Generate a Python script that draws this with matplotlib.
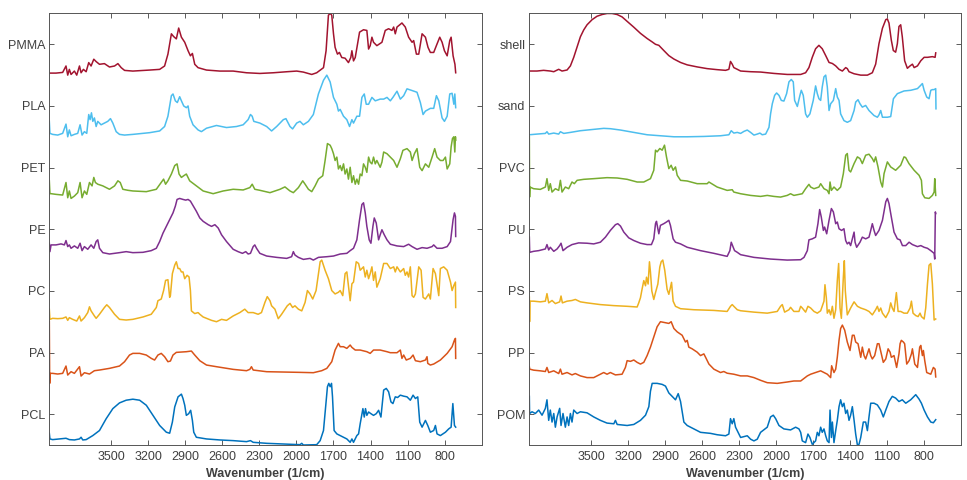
import matplotlib
matplotlib.use("Agg")
import matplotlib.pyplot as plt
import numpy as np

# ATR-FTIR spectra (wavenumber in 1/cm, absorbance in arbitrary units)
pmma = [(4000, 9), (3946, 9), (3892, 11), (3865, 30), (3851, 3), (3838, 20), (3824, 5), (3797, 15),
        (3778, 3), (3756, 30), (3743, 10), (3724, 20), (3702, 13), (3681, 40), (3662, 30), (3640, 50),
        (3621, 43), (3594, 35), (3554, 37), (3513, 27), (3472, 30), (3445, 37), (3418, 25), (3391, 17),
        (3324, 15), (3188, 18), (3107, 20), (3067, 30), (3040, 65), (3012, 125), (2994, 117), (2972, 110),
        (2953, 142), (2931, 115), (2904, 100), (2877, 75), (2858, 60), (2842, 67), (2823, 35), (2796, 25),
        (2728, 18), (2620, 15), (2512, 15), (2404, 10), (2296, 8), (2187, 10), (2079, 13), (1998, 15),
        (1944, 12), (1876, 5), (1836, 10), (1781, 25), (1760, 75), (1741, 180), (1727, 185), (1714, 180),
        (1700, 125), (1687, 85), (1668, 65), (1652, 70), (1633, 55), (1606, 53), (1579, 40), (1560, 55),
        (1551, 75), (1538, 45), (1524, 55), (1489, 130), (1457, 137), (1430, 135), (1416, 80), (1403, 90),
        (1389, 115), (1376, 100), (1349, 90), (1308, 100), (1281, 135), (1254, 140), (1227, 135),
        (1213, 145), (1200, 125), (1186, 145), (1159, 153), (1146, 157), (1119, 145), (1092, 115),
        (1064, 100), (1051, 105), (1029, 65), (1010, 65), (983, 125), (956, 115), (935, 85), (916, 70),
        (889, 70), (862, 95), (840, 115), (821, 100), (802, 75), (780, 60), (759, 105), (748, 115),
        (732, 60), (717, 35), (711, 10)]

pla = [(4000, 50), (3995, 15), (3973, 12), (3932, 10), (3892, 15), (3865, 42), (3851, 5), (3838, 25),
       (3824, 8), (3797, 12), (3770, 15), (3751, 40), (3735, 10), (3716, 20), (3697, 15), (3681, 70),
       (3670, 55), (3659, 75), (3648, 50), (3635, 60), (3621, 35), (3608, 50), (3581, 40), (3554, 45),
       (3527, 50), (3505, 58), (3486, 45), (3459, 20), (3432, 12), (3391, 10), (3324, 12), (3188, 17),
       (3107, 22), (3067, 35), (3040, 65), (3012, 125), (2999, 130), (2980, 110), (2964, 105), (2945, 122),
       (2931, 110), (2912, 95), (2891, 90), (2877, 95), (2864, 65), (2837, 40), (2796, 25), (2769, 20),
       (2728, 30), (2647, 38), (2566, 32), (2485, 35), (2431, 40), (2391, 55), (2372, 70), (2358, 65),
       (2345, 50), (2296, 45), (2241, 35), (2201, 22), (2160, 35), (2106, 55), (2085, 58), (2052, 35),
       (2031, 28), (1998, 45), (1971, 50), (1944, 40), (1903, 50), (1863, 70), (1822, 130), (1781, 170),
       (1754, 185), (1727, 165), (1700, 120), (1673, 100), (1660, 80), (1646, 85), (1619, 65), (1592, 55),
       (1570, 35), (1551, 55), (1538, 45), (1511, 65), (1489, 65), (1470, 120), (1451, 130), (1435, 100),
       (1416, 100), (1389, 120), (1362, 110), (1322, 115), (1294, 115), (1267, 120), (1240, 110),
       (1219, 120), (1186, 138), (1159, 115), (1132, 125), (1105, 145), (1064, 140), (1024, 135),
       (997, 105), (975, 70), (956, 80), (916, 88), (889, 88), (867, 125), (848, 110), (821, 60), (802, 50),
       (780, 65), (759, 130), (740, 132), (726, 100), (718, 130), (711, 90)]

pet = [(4000, 54), (3995, 16), (3986, 16), (3946, 14), (3892, 12), (3865, 49), (3851, 4), (3838, 24),
       (3824, 2), (3797, 9), (3770, 19), (3751, 49), (3735, 4), (3716, 24), (3697, 14), (3675, 49),
       (3654, 39), (3640, 64), (3627, 49), (3608, 44), (3567, 39), (3513, 29), (3472, 39), (3445, 54),
       (3426, 49), (3405, 29), (3364, 26), (3324, 24), (3215, 22), (3134, 29), (3094, 49), (3075, 59),
       (3059, 44), (3040, 54), (3012, 74), (2985, 99), (2966, 104), (2950, 74), (2931, 64), (2912, 69),
       (2891, 74), (2864, 54), (2810, 39), (2755, 24), (2674, 16), (2593, 24), (2512, 29), (2431, 27),
       (2377, 34), (2358, 44), (2337, 29), (2296, 26), (2214, 19), (2133, 29), (2093, 36), (2052, 24),
       (2025, 19), (1984, 34), (1949, 54), (1930, 44), (1903, 29), (1876, 22), (1849, 39), (1822, 59),
       (1787, 69), (1768, 114), (1749, 164), (1727, 159), (1714, 149), (1700, 134), (1687, 114),
       (1673, 124), (1660, 89), (1646, 99), (1633, 84), (1619, 104), (1606, 74), (1592, 89), (1579, 59),
       (1565, 94), (1551, 49), (1538, 69), (1524, 44), (1511, 59), (1497, 44), (1484, 74), (1470, 69),
       (1457, 104), (1443, 94), (1430, 79), (1416, 124), (1403, 109), (1389, 104), (1376, 124),
       (1362, 104), (1349, 114), (1322, 94), (1308, 109), (1294, 139), (1267, 134), (1240, 124),
       (1213, 114), (1186, 94), (1159, 119), (1138, 144), (1105, 149), (1078, 139), (1064, 114),
       (1045, 134), (1024, 149), (1002, 94), (983, 84), (956, 104), (929, 94), (902, 124), (881, 149),
       (862, 124), (835, 114), (813, 114), (794, 124), (780, 89), (759, 104), (748, 154), (737, 179),
       (726, 184), (718, 139), (713, 184), (711, 174)]

pe = [(4000, 51), (3995, 26), (3986, 46), (3946, 46), (3905, 49), (3878, 46), (3865, 59), (3851, 41),
      (3838, 46), (3824, 36), (3797, 43), (3770, 36), (3751, 51), (3735, 29), (3716, 41), (3689, 33),
      (3662, 46), (3640, 36), (3621, 56), (3608, 61), (3594, 36), (3567, 23), (3513, 19), (3432, 23),
      (3378, 26), (3324, 23), (3242, 24), (3175, 29), (3134, 36), (3107, 56), (3080, 81), (3053, 101),
      (3026, 121), (2999, 141), (2980, 161), (2966, 181), (2945, 184), (2918, 181), (2896, 179),
      (2877, 181), (2858, 176), (2842, 166), (2810, 146), (2782, 126), (2755, 116), (2714, 106),
      (2687, 101), (2660, 106), (2633, 96), (2606, 76), (2566, 56), (2512, 33), (2472, 26), (2437, 21),
      (2410, 26), (2391, 19), (2372, 21), (2350, 41), (2337, 46), (2323, 36), (2296, 21), (2241, 13),
      (2160, 9), (2079, 6), (2039, 11), (2025, 26), (2012, 16), (1984, 9), (1944, 3), (1890, 6),
      (1863, 1), (1822, 9), (1754, 11), (1700, 13), (1646, 19), (1592, 21), (1565, 29), (1538, 36),
      (1511, 61), (1489, 121), (1470, 166), (1457, 171), (1443, 141), (1430, 101), (1411, 61),
      (1397, 51), (1381, 101), (1370, 126), (1354, 111), (1335, 61), (1322, 76), (1308, 91), (1289, 76),
      (1267, 61), (1240, 48), (1186, 43), (1132, 41), (1092, 48), (1064, 41), (1024, 33), (983, 38),
      (943, 36), (902, 41), (889, 46), (862, 36), (821, 36), (780, 41), (753, 56), (732, 121),
      (721, 141), (713, 131), (711, 71)]

pc = [(4000, 40), (3995, 10), (3973, 13), (3932, 12), (3892, 13), (3865, 17), (3851, 7), (3838, 15),
      (3811, 10), (3778, 5), (3756, 20), (3743, 5), (3716, 15), (3689, 30), (3675, 47), (3662, 35),
      (3635, 20), (3621, 13), (3594, 25), (3554, 45), (3535, 53), (3513, 45), (3472, 25), (3432, 10),
      (3378, 8), (3324, 10), (3242, 17), (3175, 25), (3134, 45), (3121, 65), (3094, 70), (3075, 95),
      (3059, 125), (3040, 127), (3026, 75), (3020, 80), (3004, 145), (2985, 170), (2972, 180),
      (2958, 160), (2945, 160), (2931, 150), (2918, 150), (2904, 130), (2885, 140), (2869, 135),
      (2858, 95), (2850, 35), (2823, 27), (2796, 30), (2782, 25), (2755, 17), (2728, 13), (2687, 7),
      (2647, 3), (2606, 10), (2566, 7), (2512, 20), (2458, 30), (2418, 40), (2391, 30), (2350, 30),
      (2310, 25), (2283, 30), (2255, 60), (2236, 77), (2214, 65), (2201, 50), (2174, 40), (2147, 12),
      (2120, 25), (2093, 40), (2074, 50), (2052, 57), (2031, 45), (2012, 50), (1984, 40), (1957, 35),
      (1930, 60), (1911, 95), (1890, 85), (1868, 70), (1841, 95), (1808, 180), (1795, 185), (1768, 155),
      (1741, 130), (1714, 95), (1687, 85), (1660, 90), (1646, 95), (1625, 80), (1606, 145), (1592, 150),
      (1579, 110), (1565, 65), (1551, 115), (1538, 120), (1516, 180), (1497, 175), (1484, 155),
      (1457, 165), (1443, 135), (1430, 155), (1416, 130), (1403, 145), (1389, 165), (1376, 125),
      (1362, 150), (1349, 105), (1322, 130), (1294, 175), (1267, 175), (1240, 160), (1213, 165),
      (1200, 150), (1186, 165), (1159, 150), (1132, 160), (1119, 140), (1105, 150), (1092, 135),
      (1078, 165), (1064, 80), (1051, 75), (1037, 85), (1010, 165), (991, 155), (975, 75), (956, 70),
      (929, 85), (916, 70), (894, 160), (875, 145), (848, 80), (835, 160), (808, 165), (780, 155),
      (753, 120), (740, 95), (726, 110), (713, 120), (711, 45)]

pa = [(4000, 185), (3997, 0), (3994, 30), (3973, 30), (3932, 28), (3892, 30), (3865, 52), (3851, 25),
      (3824, 35), (3797, 30), (3756, 50), (3743, 22), (3716, 32), (3675, 28), (3635, 38), (3594, 40),
      (3513, 45), (3432, 52), (3391, 65), (3351, 85), (3324, 90), (3269, 90), (3215, 85), (3175, 75),
      (3148, 70), (3121, 85), (3094, 90), (3067, 80), (3040, 65), (3020, 67), (2999, 85), (2972, 93),
      (2891, 95), (2850, 97), (2823, 85), (2782, 68), (2728, 55), (2647, 50), (2512, 42), (2404, 38),
      (2377, 42), (2364, 50), (2350, 40), (2241, 35), (2106, 34), (1971, 33), (1863, 32), (1795, 38),
      (1754, 45), (1714, 65), (1687, 100), (1660, 120), (1646, 110), (1619, 110), (1592, 105),
      (1565, 115), (1551, 108), (1524, 100), (1484, 100), (1430, 95), (1403, 90), (1376, 100),
      (1322, 100), (1267, 95), (1240, 92), (1186, 92), (1159, 100), (1146, 75), (1132, 85), (1111, 70),
      (1078, 75), (1056, 85), (1037, 68), (997, 65), (956, 70), (943, 80), (937, 60), (916, 55),
      (889, 58), (835, 70), (780, 90), (740, 110), (721, 130), (713, 135), (711, 75)]

pcl = [(4000, 37), (3995, 20), (3973, 18), (3919, 20), (3865, 22), (3838, 18), (3797, 17), (3756, 20),
       (3743, 25), (3729, 17), (3702, 18), (3648, 30), (3594, 45), (3540, 80), (3486, 110), (3432, 127),
       (3378, 135), (3324, 138), (3269, 135), (3215, 120), (3161, 90), (3107, 60), (3053, 40), (3026, 37),
       (3004, 70), (2985, 115), (2958, 145), (2931, 153), (2918, 140), (2904, 120), (2891, 90),
       (2872, 95), (2856, 105), (2842, 75), (2831, 40), (2810, 25), (2728, 20), (2620, 17), (2512, 15),
       (2404, 12), (2372, 15), (2350, 10), (2241, 7), (2106, 5), (1971, 3), (1957, 7), (1944, 2),
       (1836, 3), (1808, 15), (1781, 45), (1760, 130), (1749, 175), (1738, 185), (1727, 175),
       (1716, 185), (1708, 145), (1695, 45), (1673, 35), (1646, 30), (1592, 20), (1565, 10), (1551, 20),
       (1538, 10), (1511, 30), (1497, 35), (1484, 65), (1462, 110), (1451, 85), (1441, 110), (1430, 90),
       (1416, 100), (1397, 95), (1376, 90), (1354, 95), (1335, 105), (1316, 85), (1294, 165),
       (1273, 170), (1254, 160), (1235, 130), (1219, 125), (1200, 145), (1181, 143), (1159, 150),
       (1132, 147), (1105, 145), (1078, 135), (1056, 150), (1037, 140), (1018, 145), (1002, 70),
       (983, 55), (956, 75), (937, 60), (916, 40), (889, 45), (875, 60), (862, 35), (835, 30), (794, 40),
       (767, 50), (748, 55), (734, 125), (721, 60), (711, 55)]

shell = [(4000, 14), (3938, 14), (3884, 16), (3830, 14), (3802, 12), (3762, 19), (3735, 14), (3694, 17),
         (3667, 29), (3640, 54), (3613, 84), (3586, 114), (3559, 134), (3532, 149), (3491, 164),
         (3451, 174), (3410, 179), (3370, 182), (3329, 182), (3288, 179), (3248, 172), (3207, 159),
         (3153, 142), (3099, 124), (3045, 109), (3004, 99), (2977, 92), (2950, 89), (2910, 74),
         (2869, 59), (2828, 49), (2774, 39), (2720, 32), (2639, 26), (2558, 21), (2477, 18), (2409, 16),
         (2382, 19), (2369, 42), (2355, 34), (2342, 24), (2314, 19), (2287, 14), (2206, 12), (2125, 11),
         (2017, 7), (1909, 4), (1800, 4), (1760, 9), (1733, 24), (1706, 54), (1679, 79), (1652, 89),
         (1625, 79), (1597, 59), (1570, 39), (1543, 36), (1516, 29), (1489, 19), (1462, 14), (1435, 24),
         (1422, 21), (1408, 12), (1367, 6), (1313, 2), (1259, 2), (1219, 9), (1192, 34), (1165, 94),
         (1137, 139), (1110, 164), (1097, 166), (1084, 154), (1065, 104), (1049, 74), (1030, 69),
         (1016, 94), (1003, 144), (989, 149), (976, 114), (957, 44), (935, 22), (913, 29), (894, 34),
         (880, 24), (853, 29), (826, 44), (799, 54), (772, 54), (732, 56), (710, 54), (705, 67)]

sand = [(4000, 8), (3938, 10), (3870, 12), (3857, 17), (3843, 10), (3802, 13), (3762, 10), (3748, 17),
        (3721, 12), (3667, 15), (3586, 20), (3505, 23), (3397, 27), (3343, 26), (3261, 22), (3153, 15),
        (3045, 8), (2937, 5), (2828, 2), (2720, 2), (2585, 3), (2450, 5), (2382, 8), (2363, 20),
        (2342, 13), (2314, 15), (2287, 12), (2260, 18), (2233, 22), (2206, 15), (2179, 7), (2152, 10),
        (2130, 13), (2112, 8), (2084, 10), (2057, 30), (2044, 70), (2030, 100), (2011, 125), (1995, 132),
        (1976, 125), (1957, 110), (1936, 108), (1914, 130), (1895, 165), (1876, 172), (1860, 165),
        (1849, 110), (1827, 92), (1806, 125), (1795, 140), (1779, 125), (1760, 70), (1746, 60),
        (1725, 70), (1698, 110), (1679, 153), (1665, 130), (1652, 115), (1638, 110), (1625, 150),
        (1611, 180), (1597, 185), (1584, 150), (1570, 80), (1557, 100), (1535, 110), (1516, 145),
        (1503, 120), (1489, 110), (1476, 70), (1449, 50), (1422, 45), (1395, 50), (1367, 80), (1354, 105),
        (1335, 112), (1319, 100), (1300, 90), (1273, 95), (1246, 80), (1205, 65), (1178, 60), (1165, 67),
        (1151, 80), (1137, 60), (1097, 60), (1070, 62), (1048, 115), (1016, 130), (962, 138), (908, 140),
        (853, 145), (826, 155), (813, 160), (799, 140), (778, 120), (759, 115), (745, 140), (732, 142),
        (718, 142), (705, 145), (703, 85)]

pvc = [(4000, 184), (3998, 4), (3995, 34), (3965, 29), (3911, 27), (3870, 34), (3857, 59), (3843, 24),
       (3830, 44), (3816, 19), (3789, 29), (3762, 24), (3748, 54), (3735, 19), (3708, 34), (3681, 29),
       (3654, 49), (3635, 44), (3613, 54), (3559, 57), (3478, 59), (3370, 62), (3288, 61), (3207, 57),
       (3126, 49), (3072, 49), (3018, 59), (2991, 84), (2977, 144), (2964, 139), (2942, 149), (2923, 144),
       (2904, 159), (2888, 124), (2869, 89), (2850, 99), (2834, 84), (2815, 94), (2801, 69), (2774, 54),
       (2720, 52), (2639, 44), (2558, 44), (2544, 49), (2477, 34), (2396, 24), (2355, 26), (2342, 19),
       (2287, 14), (2206, 9), (2125, 6), (2071, 9), (2017, 6), (1963, 4), (1909, 9), (1882, 14),
       (1855, 9), (1787, 14), (1760, 29), (1733, 42), (1719, 34), (1692, 29), (1652, 34), (1638, 44),
       (1611, 29), (1584, 24), (1570, 14), (1562, 49), (1551, 24), (1530, 34), (1503, 24), (1476, 34),
       (1454, 74), (1435, 129), (1422, 134), (1408, 84), (1395, 79), (1367, 104), (1340, 124),
       (1319, 119), (1300, 104), (1273, 129), (1246, 132), (1219, 119), (1205, 109), (1192, 124),
       (1173, 94), (1151, 49), (1137, 34), (1124, 74), (1097, 109), (1070, 94), (1030, 84), (989, 99),
       (962, 124), (949, 122), (922, 104), (880, 84), (840, 69), (821, 54), (813, 14), (794, 2), (759, 0),
       (732, 9), (718, 19), (713, 59), (705, 9)]

pu = [(4000, 71), (3997, 26), (3965, 29), (3924, 31), (3870, 36), (3857, 49), (3843, 33), (3830, 41),
      (3802, 29), (3775, 36), (3754, 46), (3743, 53), (3727, 31), (3694, 41), (3654, 49), (3600, 54),
      (3532, 53), (3478, 51), (3424, 56), (3383, 71), (3343, 91), (3302, 108), (3283, 111), (3261, 104),
      (3234, 86), (3194, 69), (3153, 61), (3099, 53), (3045, 49), (3010, 49), (2991, 66), (2977, 111),
      (2969, 118), (2958, 96), (2950, 81), (2937, 106), (2910, 111), (2888, 116), (2869, 121),
      (2856, 106), (2834, 66), (2815, 56), (2774, 51), (2720, 41), (2612, 31), (2504, 23), (2396, 14),
      (2374, 31), (2363, 56), (2347, 41), (2336, 31), (2314, 26), (2287, 19), (2179, 11), (2044, 6),
      (1909, 3), (1800, 4), (1773, 11), (1746, 31), (1733, 63), (1706, 66), (1679, 71), (1660, 111),
      (1646, 153), (1633, 131), (1616, 91), (1606, 101), (1589, 81), (1570, 121), (1551, 156),
      (1535, 146), (1516, 111), (1503, 116), (1489, 96), (1468, 91), (1449, 96), (1435, 61), (1422, 51),
      (1408, 56), (1395, 46), (1381, 66), (1367, 86), (1359, 56), (1346, 41), (1319, 56), (1300, 71),
      (1273, 66), (1246, 71), (1232, 91), (1219, 111), (1205, 91), (1192, 76), (1165, 91), (1137, 121),
      (1110, 176), (1097, 186), (1084, 171), (1065, 131), (1043, 86), (1016, 66), (994, 63), (975, 46),
      (948, 46), (921, 56), (894, 49), (853, 43), (826, 46), (799, 41), (772, 38), (745, 31), (718, 23),
      (713, 6), (708, 146), (705, 141)]

ps = [(4000, 77), (3998, 5), (3995, 65), (3965, 65), (3911, 63), (3870, 65), (3857, 87), (3843, 60),
      (3816, 67), (3789, 58), (3754, 63), (3743, 80), (3732, 60), (3694, 65), (3654, 67), (3627, 70),
      (3586, 63), (3532, 60), (3424, 55), (3315, 52), (3207, 50), (3126, 48), (3113, 60), (3099, 75),
      (3086, 100), (3072, 125), (3058, 110), (3050, 135), (3037, 115), (3026, 180), (3018, 150),
      (3007, 95), (2991, 70), (2977, 90), (2958, 115), (2942, 165), (2931, 180), (2918, 185),
      (2902, 155), (2883, 100), (2869, 85), (2856, 105), (2847, 120), (2834, 65), (2815, 50), (2774, 43),
      (2666, 40), (2504, 38), (2396, 35), (2369, 50), (2355, 55), (2342, 50), (2314, 40), (2287, 37),
      (2179, 33), (2071, 30), (1990, 35), (1963, 50), (1949, 55), (1930, 33), (1895, 40), (1882, 47),
      (1855, 35), (1814, 35), (1800, 50), (1787, 45), (1760, 33), (1741, 50), (1719, 45), (1692, 35),
      (1665, 30), (1638, 37), (1611, 65), (1603, 113), (1592, 75), (1584, 30), (1570, 40), (1557, 25),
      (1543, 50), (1530, 15), (1516, 40), (1503, 125), (1492, 175), (1481, 45), (1470, 15), (1462, 75),
      (1454, 135), (1446, 183), (1438, 95), (1422, 25), (1395, 45), (1367, 63), (1340, 50), (1313, 45),
      (1273, 40), (1246, 35), (1219, 25), (1192, 40), (1178, 50), (1165, 35), (1151, 45), (1137, 30),
      (1110, 17), (1084, 35), (1070, 60), (1057, 45), (1043, 35), (1024, 90), (1010, 35), (989, 35),
      (962, 30), (935, 30), (913, 45), (902, 65), (889, 30), (867, 23), (848, 20), (832, 30), (821, 20),
      (799, 13), (786, 45), (772, 115), (759, 170), (745, 175), (732, 115), (718, 10), (705, 13)]

pp = [(4000, 52), (3997, 45), (3965, 42), (3911, 40), (3870, 38), (3857, 50), (3843, 35), (3802, 40),
      (3762, 32), (3748, 45), (3735, 30), (3694, 35), (3654, 28), (3627, 32), (3586, 25), (3532, 20),
      (3478, 20), (3424, 30), (3397, 35), (3370, 30), (3343, 35), (3302, 28), (3248, 30), (3221, 50),
      (3207, 70), (3180, 68), (3153, 72), (3126, 65), (3099, 60), (3072, 65), (3045, 85), (3018, 110),
      (2991, 140), (2964, 170), (2937, 185), (2896, 182), (2869, 180), (2850, 185), (2828, 165),
      (2801, 155), (2761, 145), (2734, 125), (2720, 130), (2707, 110), (2680, 105), (2639, 95),
      (2612, 85), (2585, 90), (2571, 80), (2544, 60), (2504, 45), (2450, 35), (2423, 38), (2396, 33),
      (2342, 30), (2287, 25), (2233, 25), (2179, 20), (2125, 12), (2071, 5), (1990, 3), (1909, 7),
      (1855, 10), (1800, 10), (1746, 25), (1719, 30), (1679, 35), (1638, 40), (1611, 35), (1584, 30),
      (1557, 20), (1549, 55), (1530, 35), (1516, 45), (1503, 80), (1489, 130), (1476, 165), (1462, 175),
      (1443, 160), (1422, 125), (1400, 100), (1381, 145), (1367, 145), (1354, 125), (1335, 120),
      (1313, 80), (1300, 110), (1286, 85), (1273, 75), (1246, 105), (1232, 85), (1219, 75), (1200, 85),
      (1178, 120), (1165, 120), (1146, 90), (1130, 65), (1110, 75), (1091, 105), (1075, 95), (1065, 80),
      (1043, 85), (1022, 50), (1003, 90), (994, 120), (984, 130), (967, 125), (957, 120), (940, 60),
      (921, 70), (902, 90), (894, 105), (875, 60), (853, 50), (835, 110), (826, 115), (813, 85),
      (805, 100), (794, 70), (778, 35), (745, 30), (724, 50), (710, 45), (705, 22)]

pom = [(4000, 145), (3998, 95), (3978, 100), (3951, 95), (3924, 105), (3897, 90), (3870, 110), (3857, 135),
       (3843, 75), (3830, 105), (3816, 70), (3802, 95), (3789, 55), (3775, 85), (3754, 110), (3743, 60),
       (3727, 95), (3708, 55), (3694, 85), (3681, 60), (3667, 95), (3654, 70), (3640, 105), (3613, 95),
       (3586, 100), (3532, 97), (3478, 85), (3424, 75), (3370, 67), (3315, 65), (3302, 75), (3288, 63),
       (3207, 60), (3153, 63), (3099, 75), (3058, 90), (3031, 115), (3018, 160), (3004, 183), (2964, 183),
       (2923, 180), (2896, 175), (2869, 155), (2842, 145), (2815, 135), (2793, 153), (2774, 130),
       (2747, 70), (2720, 60), (2666, 50), (2612, 40), (2531, 37), (2477, 33), (2409, 30), (2382, 35),
       (2369, 80), (2355, 65), (2342, 80), (2328, 55), (2287, 25), (2233, 30), (2206, 20), (2179, 15),
       (2152, 20), (2125, 40), (2071, 55), (2044, 85), (2022, 90), (2003, 80), (1976, 60), (1936, 50),
       (1882, 47), (1841, 55), (1814, 50), (1800, 40), (1787, 15), (1760, 10), (1741, 35), (1725, 25),
       (1706, 5), (1692, 10), (1679, 15), (1665, 40), (1652, 30), (1638, 55), (1625, 40), (1611, 50),
       (1597, 30), (1584, 15), (1570, 10), (1562, 105), (1551, 25), (1543, 70), (1530, 10), (1516, 45),
       (1503, 75), (1489, 115), (1476, 135), (1462, 115), (1449, 125), (1435, 95), (1422, 105),
       (1408, 75), (1395, 90), (1381, 115), (1367, 75), (1354, 35), (1340, 3), (1327, 5), (1313, 25),
       (1292, 70), (1273, 70), (1259, 45), (1246, 85), (1232, 125), (1205, 125), (1178, 120), (1151, 105),
       (1130, 85), (1110, 105), (1084, 130), (1057, 145), (1030, 140), (1003, 130), (976, 135),
       (948, 125), (908, 135), (867, 150), (840, 137), (821, 125), (799, 105), (772, 85), (745, 70),
       (724, 68), (705, 77)]

left_names = ['PCL', 'PA', 'PC', 'PE', 'PET', 'PLA', 'PMMA']
left_spectra = [pcl, pa, pc, pe, pet, pla, pmma]
right_names = ['POM', 'PP', 'PS', 'PU', 'PVC', 'sand', 'shell']
right_spectra = [pom, pp, ps, pu, pvc, sand, shell]

# MATLAB default line colours
colors = ['#0072BD', '#D95319', '#EDB120', '#7E2F8E', '#77AC30', '#4DBEEE', '#A2142F']
xticks = [3500, 3200, 2900, 2600, 2300, 2000, 1700, 1400, 1100, 800]

plt.rcParams['font.family'] = ['Liberation Sans', 'DejaVu Sans']
ink = '#404040'

fig = plt.figure(figsize=(9.67, 4.8), dpi=100)
ax_l = fig.add_axes([0.051, 0.0729, 0.4472, 0.899])
ax_r = fig.add_axes([0.5474, 0.0729, 0.4464, 0.899])

for ax, names, spectra in [(ax_l, left_names, left_spectra), (ax_r, right_names, right_spectra)]:
    for i, (spec, col) in enumerate(zip(spectra, colors)):
        wn = np.array([p[0] for p in spec], dtype=float)
        a = np.array([p[1] for p in spec], dtype=float)
        a = (a - a.min()) / (a.max() - a.min())   # min-max normalise, then stack
        ax.plot(wn, a + i + 0.5, color=col, lw=1.1)
    ax.set_xlim(4000, 500)
    ax.set_ylim(0.5, 7.5)
    ax.set_xticks(xticks)
    ax.set_yticks(np.arange(1, 8))
    ax.set_yticklabels(names)
    ax.tick_params(direction='in', length=3.5, width=0.6, colors=ink, labelsize=9,
                   top=True, right=True, pad=4)
    ax.tick_params(axis='y', pad=3)
    for s in ax.spines.values():
        s.set_color('#555555')
        s.set_linewidth(0.7)
    ax.set_xlabel('Wavenumber (1/cm)', fontsize=9, fontweight='bold', color=ink, labelpad=4)

fig.savefig('out.png', dpi=100)
